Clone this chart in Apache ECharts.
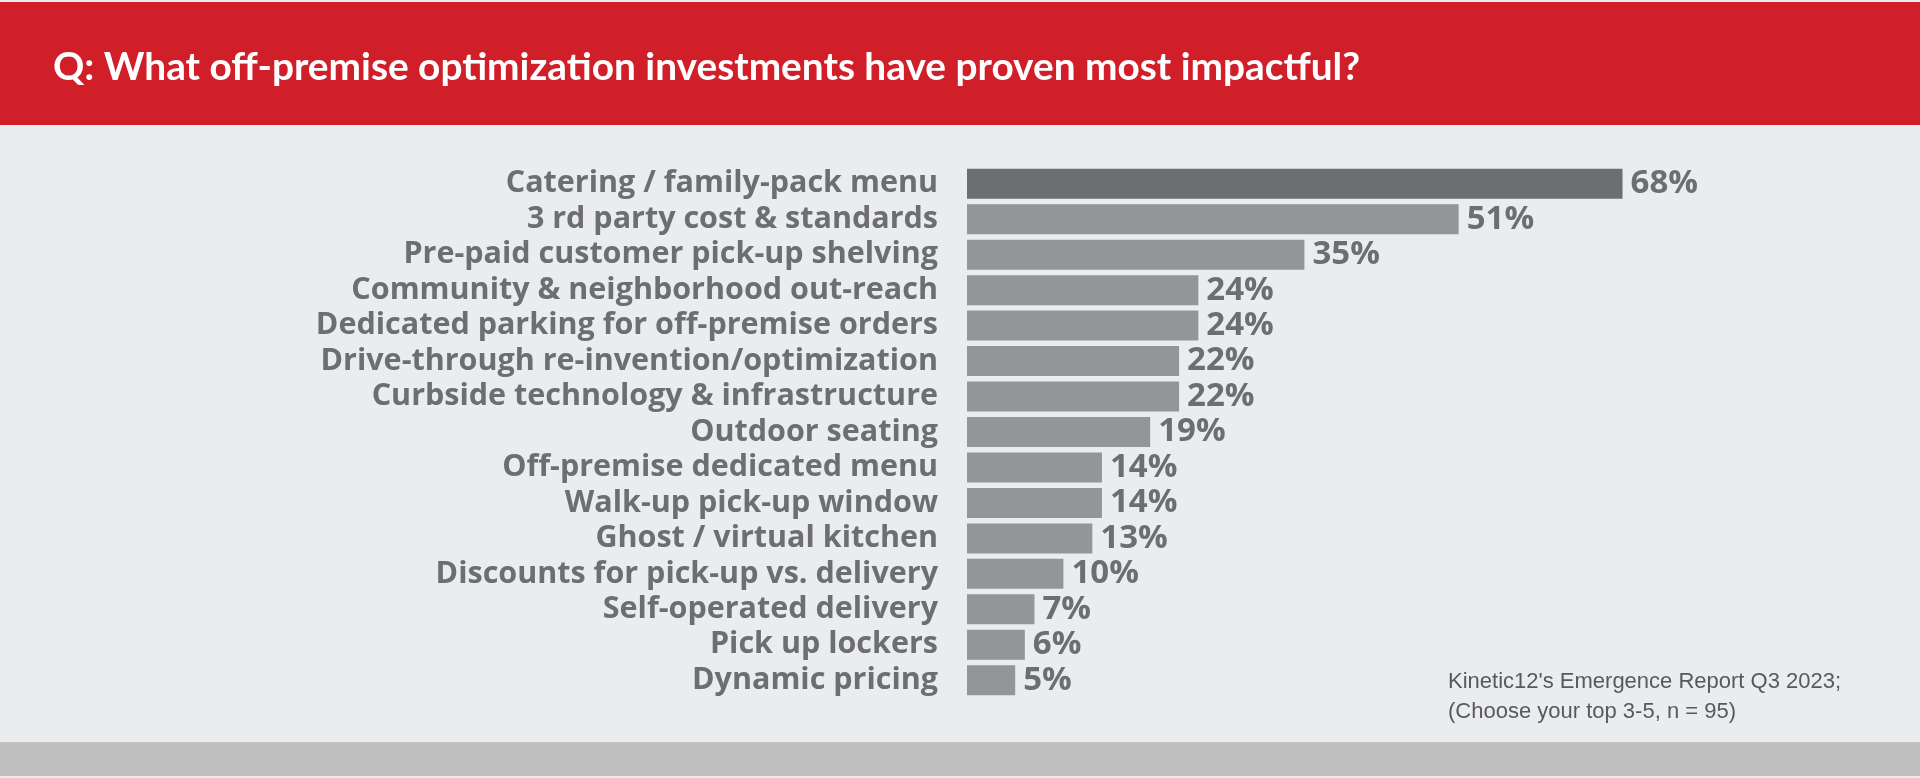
<!DOCTYPE html>
<html>
<head>
<meta charset="utf-8">
<script src="https://cdn.jsdelivr.net/npm/echarts@6/dist/echarts.min.js"></script>
<style>
  html, body { margin: 0; padding: 0; background: #ebecee; }
  #chart { width: 1920px; height: 778px; }
</style>
</head>
<body>
<div id="chart"></div>
<script>
// data
const categories = [
    'Catering / family-pack menu',
    '3 rd party cost & standards',
    'Pre-paid customer pick-up shelving',
    'Community & neighborhood out-reach',
    'Dedicated parking for off-premise orders',
    'Drive-through re-invention/optimization',
    'Curbside technology & infrastructure',
    'Outdoor seating',
    'Off-premise dedicated menu',
    'Walk-up pick-up window',
    'Ghost / virtual kitchen',
    'Discounts for pick-up vs. delivery',
    'Self-operated delivery',
    'Pick up lockers',
    'Dynamic pricing'
]
const values = [68, 51, 35, 24, 24, 22, 22, 19, 14, 14, 13, 10, 7, 6, 5]
const titleText = 'Q: What off-premise optimization investments have proven most impactful?'
const sourceLines = ["Kinetic12's Emergence Report Q3 2023;", '(Choose your top 3-5, n = 95)']

const myChart = echarts.init(document.getElementById('chart'))

const option = {
    backgroundColor: '#ebecee',
    animation: false,
    title: {
        text: titleText,
        left: 48,
        top: 43,
        textStyle: {
            color: '#ffffff',
            fontFamily: 'Lato',
            fontWeight: 'bold',
            fontSize: 38.8
        }
    },
    graphic: [
        // red header band
        { type: 'rect', z: -1, shape: { x: 0, y: 2, width: 1920, height: 123 }, style: { fill: '#d11f2a' } },
        // grey footer band
        { type: 'rect', z: -1, shape: { x: 0, y: 742, width: 1920, height: 34 }, style: { fill: '#c0c0c0' } },
        {
            type: 'text',
            left: 1448,
            top: 667,
            style: {
                text: sourceLines.join('\n'),
                fill: '#58595b',
                font: '22px "Liberation Sans Narrow", "Liberation Sans", sans-serif',
                lineHeight: 30
            }
        }
    ],
    grid: {
        left: 967,
        top: 166,
        width: 771.2,
        height: 532
    },
    xAxis: {
        type: 'value',
        min: 0,
        max: 80,
        show: false
    },
    yAxis: {
        type: 'category',
        data: categories,
        inverse: true,
        axisLine: { show: false },
        axisTick: { show: false },
        axisLabel: {
            interval: 0,
            margin: 29,
            color: '#6d6e71',
            fontFamily: 'Open Sans',
            fontWeight: 'bold',
            fontSize: 30.5
        }
    },
    series: [
        {
            type: 'bar',
            data: values.map((v, i) => ({
                value: v,
                itemStyle: { color: i === 0 ? '#6d6e71' : '#939598' }
            })),
            barWidth: 30,
            label: {
                show: true,
                position: 'right',
                distance: 8,
                formatter: '{c}%',
                color: '#6d6e71',
                fontFamily: 'Open Sans',
                fontWeight: 'bold',
                fontSize: 33
            }
        }
    ]
}

myChart.setOption(option)
</script>
</body>
</html>
